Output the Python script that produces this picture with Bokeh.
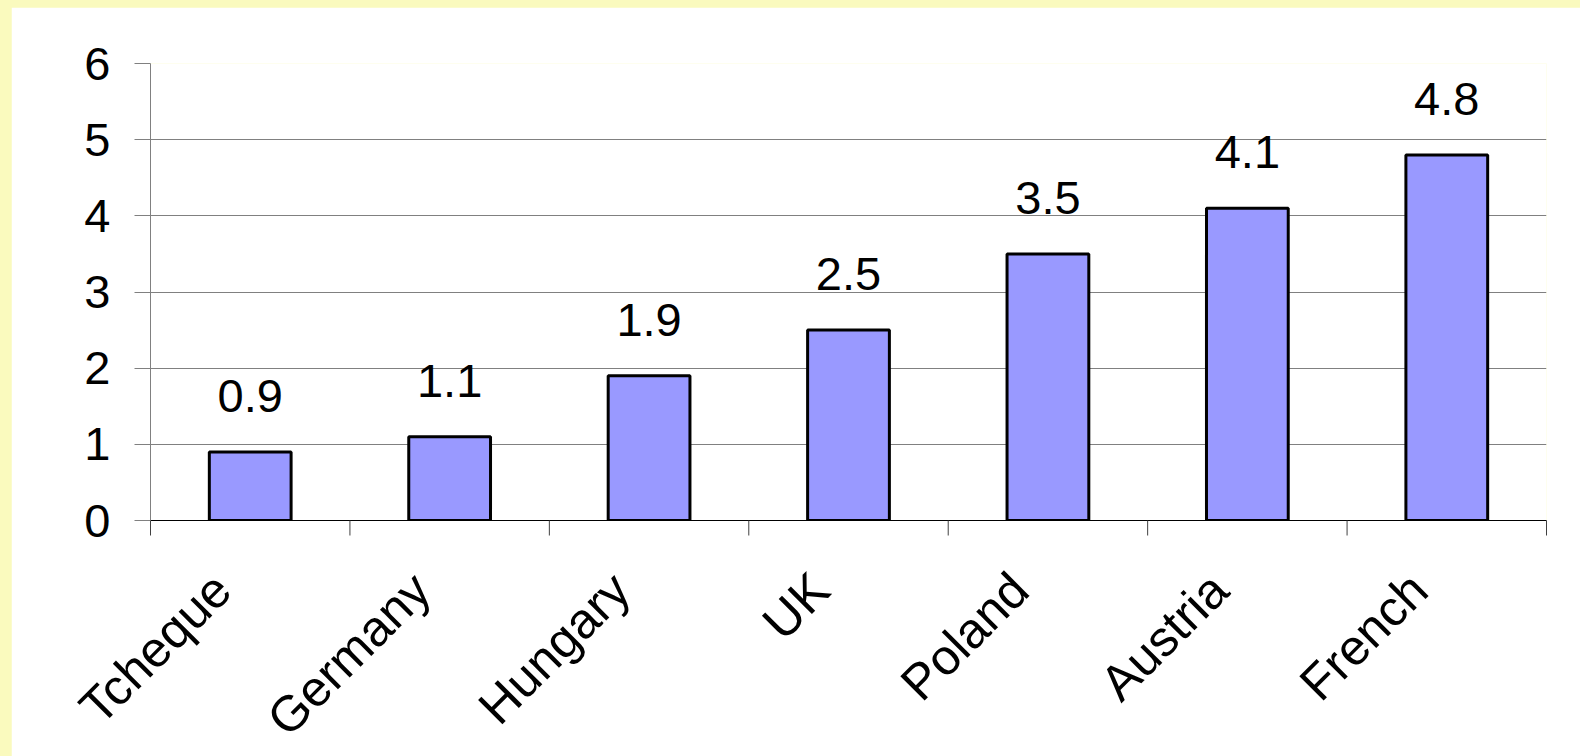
import math
from bokeh.plotting import figure
from bokeh.models import FixedTicker, Range1d, ColumnDataSource
from bokeh.core.properties import value
from bokeh.embed import file_html
from bokeh.resources import INLINE

categories = ["Tcheque", "Germany", "Hungary", "UK", "Poland", "Austria", "French"]
values = [0.9, 1.1, 1.9, 2.5, 3.5, 4.1, 4.8]
value_labels = ["0.9", "1.1", "1.9", "2.5", "3.5", "4.1", "4.8"]
y_ticks = [0, 1, 2, 3, 4, 5, 6]

FONT = "Liberation Sans"
FS = "47px"
XFS = "50px"

n = len(categories)
xs = [i + 0.5 for i in range(n)]
bounds = list(range(n + 1))
src = ColumnDataSource(dict(x=xs, v=values, lab=value_labels, cat=categories,
                            base=[0] * n))

p = figure(width=1569, height=749,
           x_range=Range1d(0, n), y_range=Range1d(0, 6),
           output_backend="svg", toolbar_location=None,
           min_border_left=139, min_border_right=34,
           min_border_top=56, min_border_bottom=236,
           background_fill_color="white", border_fill_color="white",
           outline_line_color=None)

p.vbar(x="x", top="v", bottom=0, width=0.41, source=src,
       fill_color="#9999FF", line_color="black", line_width=3)

p.text(x="x", y="v", text="lab", source=src,
       text_font=value(FONT), text_font_size=FS, text_color="black",
       text_align="center", text_baseline="alphabetic", y_offset=-56)

# category boundary ticks below the x axis
p.ray(x=bounds, y=[0] * len(bounds), length=15, length_units="screen",
      angle=-math.pi / 2, line_color="#404040", line_width=1, level="overlay")

# rotated category labels under the axis
p.text(x="x", y="base", text="cat", source=src, level="overlay",
       angle=math.pi / 4, text_align="right", text_baseline="middle",
       x_offset=-28, y_offset=61,
       text_font=value(FONT), text_font_size=XFS, text_color="black")

# x axis (line only)
xa = p.xaxis[0]
xa.ticker = FixedTicker(ticks=[], minor_ticks=[])
xa.major_tick_out = 0
xa.major_tick_in = 0
xa.minor_tick_out = 0
xa.minor_tick_in = 0
xa.axis_line_color = "black"
xa.axis_line_width = 1
xa.major_label_standoff = 0

# y axis
ya = p.yaxis[0]
ya.ticker = FixedTicker(ticks=y_ticks)
ya.major_tick_out = 16
ya.major_tick_in = 0
ya.minor_tick_line_color = None
ya.axis_line_color = "#808080"
ya.major_tick_line_color = "#808080"
ya.major_label_standoff = 24
ya.major_label_text_font = FONT
ya.major_label_text_font_size = FS
ya.major_label_text_color = "black"

p.xgrid.visible = False
p.ygrid.ticker = FixedTicker(ticks=y_ticks)
p.ygrid.grid_line_color = "#808080"
p.ygrid.grid_line_width = 1

html = file_html(p, INLINE)
css = ("<style>html, body { background-color: #FAFABE; margin: 0; }"
       " body { box-sizing: border-box; padding: 7px 0 0 11px; }</style></head>")
html = html.replace("</head>", css, 1)
open("out.html", "w").write(html)
